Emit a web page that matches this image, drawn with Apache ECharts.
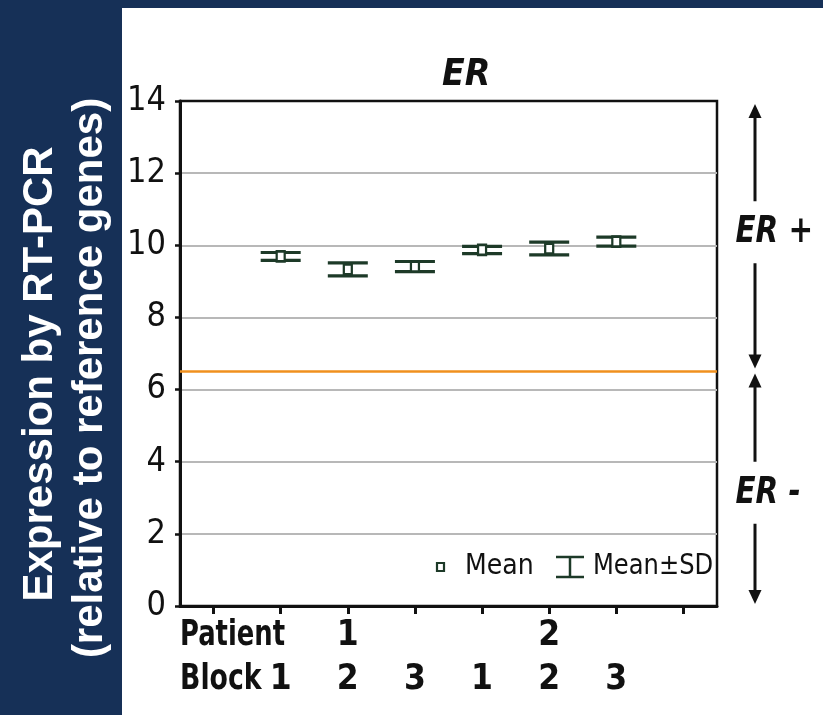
<!DOCTYPE html>
<html><head><meta charset="utf-8">
<script src="https://cdn.jsdelivr.net/npm/echarts@6/dist/echarts.min.js"></script>
<style>
html,body{margin:0;padding:0;background:#163057;width:823px;height:715px;overflow:hidden;}
#panel{position:absolute;left:122px;top:8px;width:701px;height:707px;background:#fff;}
#chart{position:absolute;left:0;top:0;width:823px;height:715px;}
</style></head><body><div id="panel"></div><div id="chart"></div>
<script>
// ---- data ----
const samples = ['P1-B1', 'P1-B2', 'P1-B3', 'P2-B1', 'P2-B2', 'P2-B3'];
const patientRow = ['', '1', '', '', '2', ''];
const blockRow = ['1', '2', '3', '1', '2', '3'];
const means = [9.69, 9.33, 9.41, 9.87, 9.91, 10.10];
const sds = [0.11, 0.18, 0.14, 0.10, 0.175, 0.125];
const threshold = 6.5;
const yTicks = [0, 2, 4, 6, 8, 10, 12, 14];
const categories = ['start'].concat(samples, ['end']);

// ---- style ----
const NARROW = "'Liberation Sans Narrow','Arial Narrow','DejaVu Sans Condensed',sans-serif";
const ERR = '#1d3a28';
const INK = '#111';
const GRID = '#b8b8b8';

function catLabel(row) {
  return function (v, idx) {
    const i = idx - 1;
    return (i >= 0 && i < row.length) ? row[i] : '';
  };
}

const chart = echarts.init(document.getElementById('chart'), null, {renderer: 'canvas'});

const xBase = {
  type: 'category', data: categories, position: 'bottom', boundaryGap: true,
  splitLine: {show: false}
};

chart.setOption({
  animation: false,
  title: {
    text: 'ER', left: 437, top: 52,
    textStyle: {fontFamily: NARROW, fontWeight: 'bold', fontStyle: 'italic', fontSize: 37, color: INK}
  },
  grid: {left: 180, right: 106, top: 101, bottom: 109, show: true, borderColor: INK, borderWidth: 2.5, backgroundColor: 'transparent'},
  xAxis: [
    Object.assign({}, xBase, {
      axisLine: {lineStyle: {color: INK, width: 3}},
      axisTick: {show: true, alignWithLabel: true, interval: 0, length: 8, lineStyle: {color: INK, width: 3}},
      axisLabel: {formatter: catLabel(patientRow), interval: 0, margin: 12,
        fontFamily: NARROW, fontWeight: 'bold', fontSize: 35, color: INK}
    }),
    Object.assign({}, xBase, {
      offset: 44,
      axisLine: {show: false}, axisTick: {show: false},
      axisLabel: {formatter: catLabel(blockRow), interval: 0, margin: 12,
        fontFamily: NARROW, fontWeight: 'bold', fontSize: 35, color: INK}
    })
  ],
  yAxis: {
    type: 'value', min: yTicks[0], max: yTicks[yTicks.length - 1], interval: 2,
    axisLine: {show: true, lineStyle: {color: INK, width: 3}},
    axisTick: {show: true, length: 5, lineStyle: {color: INK, width: 2.5}},
    axisLabel: {margin: 14, fontFamily: NARROW, fontSize: 34, color: INK},
    splitLine: {show: true, lineStyle: {color: yTicks.map((t, i) => i === yTicks.length - 1 ? INK : GRID), width: 2}}
  },
  series: [
    {
      name: 'Mean±SD', type: 'custom', xAxisIndex: 0, yAxisIndex: 0, z: 3,
      data: samples.map((s, i) => [s, means[i] - sds[i], means[i] + sds[i]]),
      renderItem: function (params, api) {
        const x = api.value(0);
        const lo = api.coord([x, api.value(1)]);
        const hi = api.coord([x, api.value(2)]);
        const hw = 20;
        const st = {stroke: ERR, lineWidth: 3.2, fill: null};
        return {type: 'group', children: [
          {type: 'line', shape: {x1: lo[0], y1: lo[1], x2: hi[0], y2: hi[1]}, style: st},
          {type: 'line', shape: {x1: lo[0] - hw, y1: lo[1], x2: lo[0] + hw, y2: lo[1]}, style: st},
          {type: 'line', shape: {x1: hi[0] - hw, y1: hi[1], x2: hi[0] + hw, y2: hi[1]}, style: st}
        ]};
      }
    },
    {
      name: 'Mean', type: 'scatter', xAxisIndex: 0, yAxisIndex: 0, z: 4,
      symbol: 'rect', symbolSize: [8, 10],
      itemStyle: {color: '#fff', borderColor: ERR, borderWidth: 2.5, opacity: 1},
      emphasis: {disabled: true},
      data: samples.map((s, i) => [s, means[i]]),
      markLine: {
        silent: true, symbol: 'none', label: {show: false},
        lineStyle: {color: '#f0901e', width: 2.5, type: 'solid', opacity: 1},
        data: [{yAxis: threshold}]
      }
    }
  ]
});

// ---- annotations (right-side arrows, legend, axis captions) ----
const yTop = chart.convertToPixel({yAxisIndex: 0}, yTicks[yTicks.length - 1]);
const yThr = chart.convertToPixel({yAxisIndex: 0}, threshold);
const yBot = chart.convertToPixel({yAxisIndex: 0}, yTicks[0]);
const AX = 755;

function dArrow(x, y1, y2) {
  const h = 14, w = 6.5;
  return [
    {type: 'line', shape: {x1: x, y1: y1 + 8, x2: x, y2: y2 - 8}, style: {stroke: INK, lineWidth: 3}, z: 1},
    {type: 'polygon', shape: {points: [[x, y1], [x - w, y1 + h], [x + w, y1 + h]]}, style: {fill: INK}, z: 1},
    {type: 'polygon', shape: {points: [[x, y2], [x - w, y2 - h], [x + w, y2 - h]]}, style: {fill: INK}, z: 1}
  ];
}
function txt(text, x, y, font, extra) {
  return Object.assign({type: 'text', x: x, y: y, z: 5, style: {
    text: text, fill: INK, font: font,
    align: 'left', verticalAlign: 'middle', textAlign: 'left', textVerticalAlign: 'middle'
  }}, extra || {});
}
function sideLabel(text, y) {
  const t = txt(text, 732, y, 'italic bold 38px ' + NARROW, {scaleX: 0.86});
  t.style.backgroundColor = '#fff';
  t.style.padding = [12, 4];
  return t;
}
const legendY = 567;
const graphics = []
  .concat(dArrow(AX, yTop + 3, yThr - 3))
  .concat(dArrow(AX, yThr + 2, yBot - 2))
  .concat([
    sideLabel('ER +', (yTop + yThr) / 2 - 4),
    sideLabel('ER -', (yThr + yBot) / 2 + 4),
    // legend
    {type: 'rect', shape: {x: 437, y: legendY - 4, width: 7, height: 8}, style: {fill: '#fff', stroke: ERR, lineWidth: 2.2}, z: 5},
    txt('Mean', 465, legendY, '28px ' + NARROW),
    {type: 'line', shape: {x1: 556, y1: legendY - 10, x2: 584, y2: legendY - 10}, style: {stroke: ERR, lineWidth: 2.5}, z: 5},
    {type: 'line', shape: {x1: 556, y1: legendY + 10, x2: 584, y2: legendY + 10}, style: {stroke: ERR, lineWidth: 2.5}, z: 5},
    {type: 'line', shape: {x1: 570, y1: legendY - 10, x2: 570, y2: legendY + 10}, style: {stroke: ERR, lineWidth: 2.5}, z: 5},
    txt('Mean±SD', 593, legendY, '28px ' + NARROW, {scaleX: 0.96}),
    // x-axis row captions
    txt('Patient', 180, 636, 'bold 35px ' + NARROW, {scaleX: 0.82}),
    txt('Block', 180, 680, 'bold 35px ' + NARROW, {scaleX: 0.85}),
    // y-axis title (on dark strip)
    {type: 'text', x: 40, y: 374, rotation: Math.PI / 2, z: 5, style: {text: 'Expression by RT-PCR', fill: '#fff', font: 'bold 42px "Liberation Sans",Arial,sans-serif', align: 'center', verticalAlign: 'middle', textAlign: 'center', textVerticalAlign: 'middle'}},
    {type: 'text', x: 90, y: 378, rotation: Math.PI / 2, z: 5, style: {text: '(relative to reference genes)', fill: '#fff', font: 'bold 42px "Liberation Sans",Arial,sans-serif', align: 'center', verticalAlign: 'middle', textAlign: 'center', textVerticalAlign: 'middle'}}
  ]);
chart.setOption({graphic: graphics});
</script>
</body></html>
